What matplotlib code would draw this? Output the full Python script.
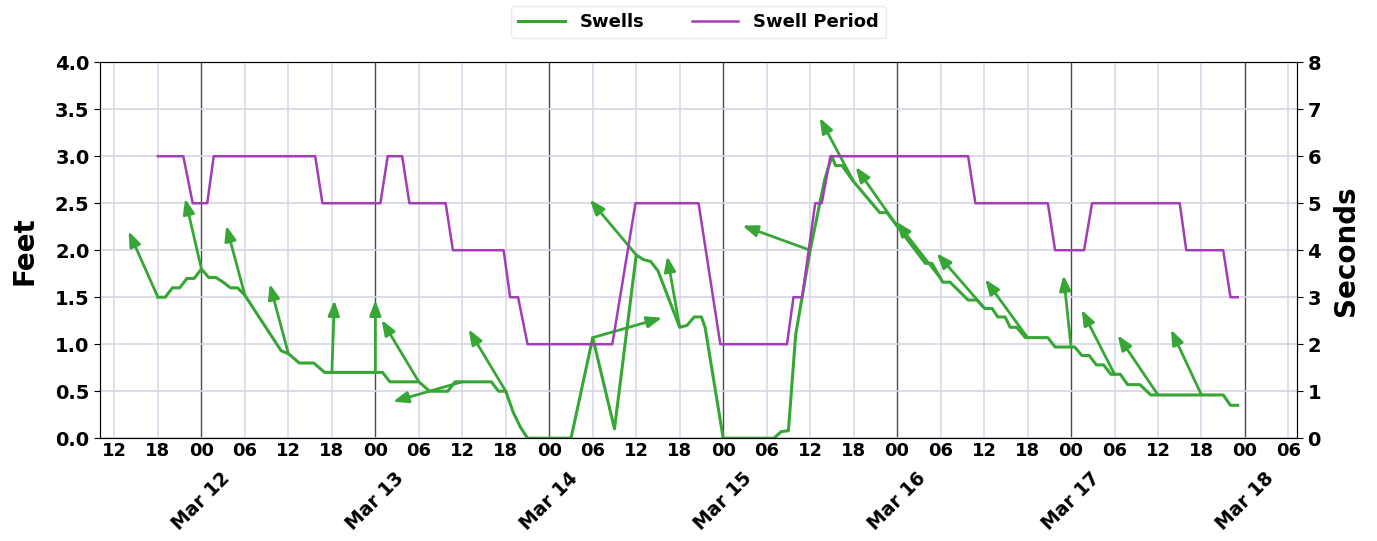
import numpy as np
import pandas as pd
import matplotlib
matplotlib.use("Agg")
import matplotlib.pyplot as plt
import matplotlib.dates as mdates

plt.rcParams["font.family"] = ["DejaVu Sans"]
plt.rcParams["font.weight"] = "bold"

START = pd.Timestamp("2018-03-11 00:00")

# hours since Mar 11 00:00, swell height in feet
swell_hours = [18, 19, 20, 21, 22, 23, 24, 25, 26, 27, 28, 29, 30, 35, 36, 37.5,
               39.5, 41, 49, 50, 54, 55.5, 58, 59, 64, 65, 66, 67, 68, 69, 75, 78,
               81, 84, 85, 86, 87, 88, 90, 91, 92, 93, 93.5, 96, 103, 104, 105,
               106, 108, 110, 111, 111.5, 112.4, 114, 117.6, 118.6, 123.9, 124.8,
               126.3, 127.3, 129.8, 131, 132.1, 133.1, 133.9, 134.9, 135.6, 136.5,
               137.7, 140.8, 141.8, 144.5, 145.5, 146.5, 147.5, 148.5, 149.5,
               150.8, 151.8, 153.5, 155, 165, 166, 167]
swell_feet = [1.5, 1.5, 1.6, 1.6, 1.7, 1.7, 1.8, 1.71, 1.71, 1.66, 1.6, 1.6, 1.52,
              0.93, 0.9, 0.8, 0.8, 0.7, 0.7, 0.6, 0.6, 0.5, 0.5, 0.6, 0.6, 0.5,
              0.5, 0.28, 0.12, 0.0, 0.0, 1.07, 0.1, 1.95, 1.9, 1.88, 1.78, 1.58,
              1.18, 1.2, 1.29, 1.29, 1.18, 0.0, 0.0, 0.07, 0.08, 1.1, 2.0, 2.75,
              3.0, 2.9, 2.9, 2.73, 2.4, 2.4, 1.86, 1.86, 1.66, 1.66, 1.47, 1.47,
              1.38, 1.38, 1.29, 1.29, 1.18, 1.18, 1.07, 1.07, 0.97, 0.97, 0.88,
              0.88, 0.78, 0.78, 0.68, 0.68, 0.57, 0.57, 0.46, 0.46, 0.35, 0.35]

# hours since Mar 11 00:00, swell period in seconds
period_hours = [18, 21.5, 22.8, 24.8, 25.7, 39.7, 40.7, 48.7, 49.7, 51.7, 52.7,
                57.7, 58.7, 65.7, 66.6, 67.7, 69, 80.7, 83.9, 92.6, 95.6, 104.8,
                105.7, 106.9, 108.7, 109.6, 110.8, 129.8, 130.8, 140.8, 141.8,
                145.8, 146.9, 159, 159.9, 165, 166, 167]
period_sec = [6, 6, 5, 5, 6, 6, 5, 5, 6, 6, 5, 5, 4, 4, 3, 3, 2, 2, 5, 5, 2, 2,
              3, 3, 5, 5, 6, 6, 5, 5, 4, 4, 5, 5, 4, 4, 3, 3]

# direction arrows every 6 h (angle in degrees, counter-clockwise from east)
arrow_hours = [18, 24, 30, 36, 42, 48, 54, 60, 66, 78, 84, 90, 108, 114, 120,
               126, 132, 138, 144, 150, 156, 162]
arrow_angle = [114, 103, 105, 105, 88, 90, 121, 196, 121, 16, 130, 100, 160,
               118, 125, 128, 131, 126, 96, 117, 124, 115]

green = "#36a635"
purple = "#a23db5"

swell_t = START + pd.to_timedelta(swell_hours, unit="h")
period_t = START + pd.to_timedelta(period_hours, unit="h")

fig = plt.figure(figsize=(13.77, 5.41), dpi=100)
ax = fig.add_axes([0.0726, 0.19, 0.8694, 0.695])
ax2 = ax.twinx()

l1, = ax.plot(swell_t, swell_feet, color=green, linewidth=2.2, label="Swells")
l2, = ax2.plot(period_t, period_sec, color=purple, linewidth=1.8, label="Swell Period")

# direction arrows, fixed length
arrow_len = 52
for h, ang in zip(arrow_hours, arrow_angle):
    t = START + pd.Timedelta(hours=h)
    f = np.interp(h, swell_hours, swell_feet)
    dx = arrow_len * np.cos(np.radians(ang))
    dy = arrow_len * np.sin(np.radians(ang))
    ax.annotate("", xy=(mdates.date2num(t), f), xytext=(dx, dy),
                textcoords="offset points",
                arrowprops=dict(arrowstyle="<|-,head_length=1.0,head_width=0.38",
                                color=green, lw=2.0, mutation_scale=9,
                                shrinkA=0, shrinkB=0))

ax.set_xlim(START + pd.Timedelta(hours=10), START + pd.Timedelta(hours=175.2))
ax.set_ylim(0, 4)
ax2.set_ylim(0, 8)
ax.set_yticks(np.arange(0, 4.01, 0.5))
ax2.set_yticks(range(0, 9))

# hour labels: midnight as major (dark grid), other 6 h marks as minor
ax.xaxis.set_major_locator(mdates.DayLocator())
ax.xaxis.set_major_formatter(mdates.DateFormatter("%H"))
ax.xaxis.set_minor_locator(mdates.HourLocator(byhour=[6, 12, 18]))
ax.xaxis.set_minor_formatter(mdates.DateFormatter("%H"))
ax.tick_params(axis="x", which="both", pad=3, length=0, labelsize=13)

# day labels underneath
sec = ax.secondary_xaxis("bottom")
sec.xaxis.set_major_locator(mdates.DayLocator())
sec.xaxis.set_major_formatter(mdates.DateFormatter("%b %d"))
sec.tick_params(axis="x", which="major", pad=22, length=0, labelsize=13.5,
                labelrotation=45)
sec.spines["bottom"].set_visible(False)

ax.tick_params(axis="y", labelsize=14, length=4)
ax2.tick_params(axis="y", labelsize=14, length=4)

ax.grid(True, which="minor", axis="x", color="#dcd9ea", linewidth=1.2)
ax.grid(True, which="major", axis="x", color="#4a4a4a", linewidth=1.0)
ax.grid(True, which="major", axis="y", color="#d6d4e4", linewidth=1.2)
ax.set_axisbelow(True)

ax.set_ylabel("Feet", fontsize=20, fontweight="bold", labelpad=12)
ax2.set_ylabel("Seconds", fontsize=20, fontweight="bold", labelpad=8)

for s in ax.spines.values():
    s.set_color("#333333")

ax2.legend([l1, l2], ["Swells", "Swell Period"], loc="lower center",
           bbox_to_anchor=(0.5, 1.04), ncol=2, fontsize=13, handlelength=2.6,
           columnspacing=2.6, frameon=True, edgecolor="#e6e6e6")

fig.savefig("out.png", dpi=100)
